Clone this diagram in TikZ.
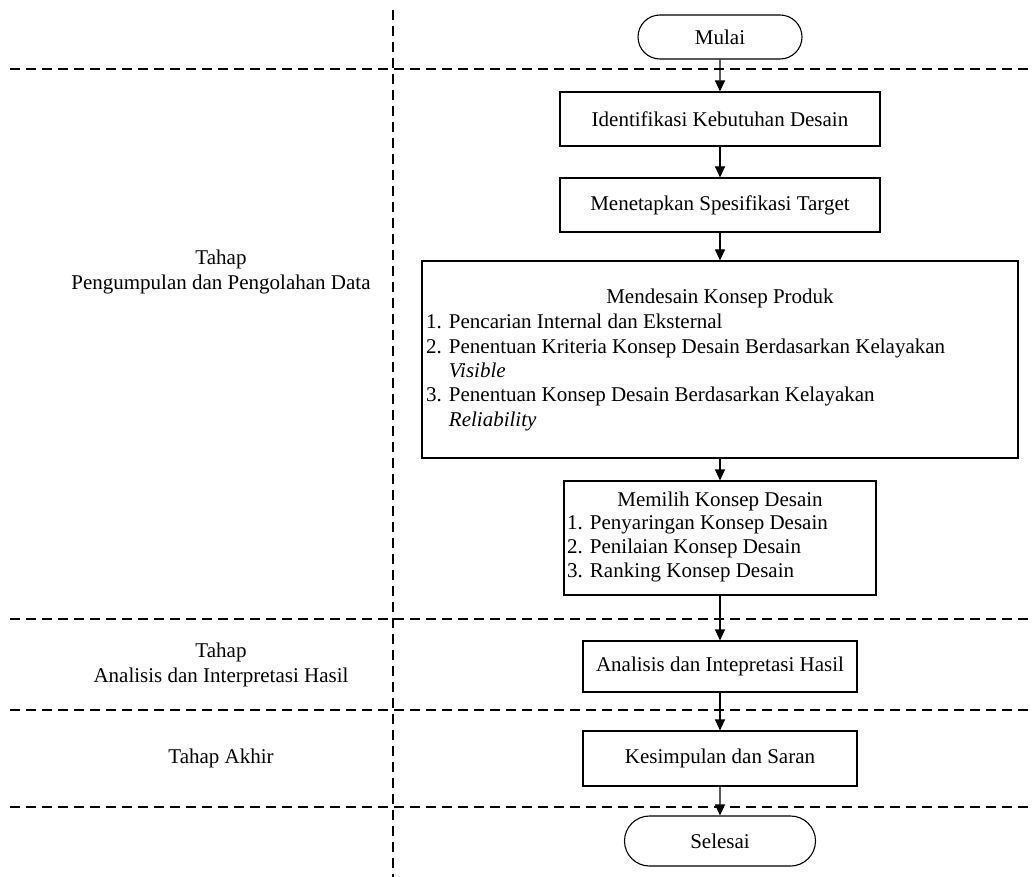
\documentclass[tikz,border=0pt]{standalone}
\usepackage{fontspec}
\setmainfont{Liberation Serif}
\usetikzlibrary{arrows.meta,shapes.misc}
\begin{document}
\begin{tikzpicture}[x=1pt,y=-1pt,
  every node/.style={font=\fontsize{21}{24.4}\selectfont, inner sep=0pt},
  proc/.style={draw, line width=1.1pt, rectangle},
  term/.style={draw, line width=1.1pt, rounded rectangle},
  sep/.style={line width=1.1pt, dash pattern=on 10pt off 6pt},
  flow/.style={line width=1.1pt, -{Triangle[length=11pt,width=10pt]}}]
\useasboundingbox (0,0) rectangle (1034,877);
% separators
\coordinate (vt) at (393,10);
\coordinate (vb) at (393,877);
\draw[sep] (vt) -- (vb);
\foreach \yy/\nm in {69/a,619/b,710/c,807/d}{
  \coordinate (l\nm) at (10,\yy);
  \coordinate (r\nm) at (1034,\yy);
  \draw[sep] (l\nm) -- (r\nm);
}
% left labels
\node[align=center] (lab1) at (221,272) {Tahap\\Pengumpulan dan Pengolahan Data};
\node[align=center] (lab2) at (221,665) {Tahap\\Analisis dan Interpretasi Hasil};
\node (lab3) at (221,758) {Tahap Akhir};
% flow
\node[term, minimum width=164pt, minimum height=44pt] (start) at (720,37) {Mulai};
\node[proc, minimum width=320pt, minimum height=54pt] (b1) at (720,119) {Identifikasi Kebutuhan Desain};
\node[proc, minimum width=320pt, minimum height=54pt] (b2) at (720,205) {Menetapkan Spesifikasi Target};
\node[proc, minimum width=596pt, minimum height=197pt] (b3) at (720,359.5) {};
\node (b3t) at (720,298) {Mendesain Konsep Produk};
\node[anchor=north west, align=left] (b3l) at (426,314) {1. Pencarian Internal dan Eksternal\\
2. Penentuan Kriteria Konsep Desain Berdasarkan Kelayakan\\
\phantom{2. }\textit{Visible}\\
3. Penentuan Konsep Desain Berdasarkan Kelayakan\\
\phantom{3. }\textit{Reliability}};
\node[proc, minimum width=312pt, minimum height=114pt] (b4) at (720,538) {};
\node (b4t) at (720,501) {Memilih Konsep Desain};
\node[anchor=north west, align=left] (b4l) at (567,515) {1. Penyaringan Konsep Desain\\
2. Penilaian Konsep Desain\\
3. Ranking Konsep Desain};
\node[proc, minimum width=274pt, minimum height=51pt] (b5) at (720,666.5) {Analisis dan Intepretasi Hasil};
\node[proc, minimum width=274pt, minimum height=55pt] (b6) at (720,758.5) {Kesimpulan dan Saran};
\node[term, minimum width=191pt, minimum height=50pt] (end) at (720,841) {Selesai};
\draw[flow] (start) -- (b1);
\draw[flow] (b1) -- (b2);
\draw[flow] (b2) -- (b3);
\draw[flow] (b3) -- (b4);
\draw[flow] (b4) -- (b5);
\draw[flow] (b5) -- (b6);
\draw[flow] (b6) -- (end);
\end{tikzpicture}
\end{document}
